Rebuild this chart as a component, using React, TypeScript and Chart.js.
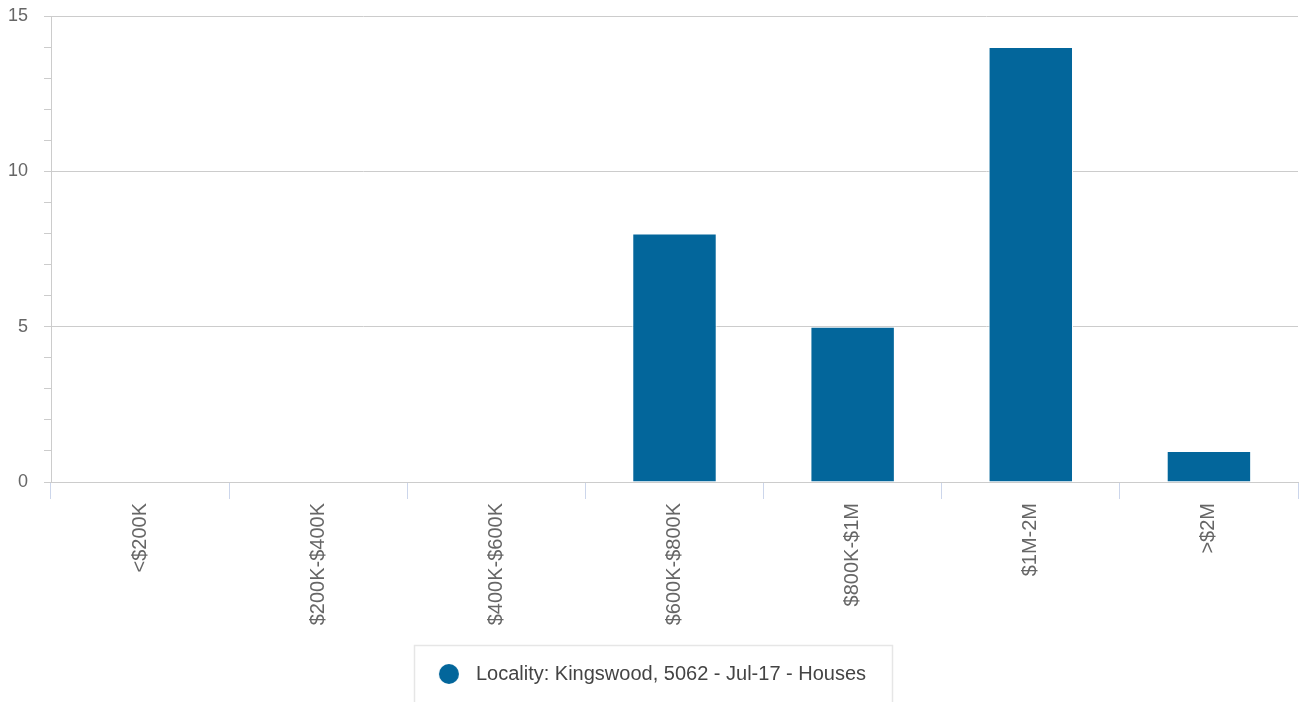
import React, { useEffect, useRef } from "react";
import { Chart, registerables } from "chart.js";

Chart.register(...registerables);

const categories = ["<$200K", "$200K-$400K", "$400K-$600K", "$600K-$800K", "$800K-$1M", "$1M-2M", ">$2M"];
const salesCounts = [0, 0, 0, 8, 5, 14, 1];
const seriesName = "Locality: Kingswood, 5062 - Jul-17 - Houses";
const yMin = 0;
const yMax = 15;
const yMajorStep = 5;
const yMinorStep = 1;

const barColor = "#03669b";
const labelColor = "#666666";
const gridColor = "#cccccc";
const xTickColor = "#ccd6eb";
const fontFamily = "'Liberation Sans', Arial, sans-serif";

export default function App() {
  const ref = useRef<HTMLCanvasElement>(null);

  useEffect(() => {
    if (!ref.current) return;
    const marker = document.createElement("canvas");
    marker.width = 22;
    marker.height = 22;
    const mctx = marker.getContext("2d")!;
    mctx.fillStyle = barColor;
    mctx.beginPath();
    mctx.arc(11, 11, 10, 0, Math.PI * 2);
    mctx.fill();

    const legendBox = {
      id: "legendBox",
      afterDraw(chart: any) {
        const lg = chart.legend;
        if (!lg || !lg.legendHitBoxes || !lg.legendHitBoxes.length) return;
        const hb = lg.legendHitBoxes[0];
        const ctx = chart.ctx;
        const left = Math.round(hb.left - 18);
        const right = Math.round(hb.left + hb.width + 26);
        const top = Math.round(lg.top);
        ctx.save();
        ctx.strokeStyle = "#e6e6e6";
        ctx.lineWidth = 1.5;
        ctx.strokeRect(left + 0.5, top + 0.5, right - left, chart.height - top + 10);
        ctx.restore();
      },
    };

    const chart = new Chart(ref.current, {
      type: "bar",
      data: {
        labels: categories,
        datasets: [
          {
            label: seriesName,
            data: salesCounts,
            backgroundColor: barColor,
            borderColor: "#ffffff",
            borderWidth: 1,
            categoryPercentage: 0.6,
            barPercentage: 0.79,
            pointStyle: marker as any,
          },
        ],
      },
      options: {
        animation: false,
        responsive: true,
        maintainAspectRatio: false,
        layout: { padding: { top: 16, right: 3, bottom: 8, left: 0 } },
        plugins: {
          tooltip: { enabled: false },
          legend: {
            position: "bottom",
            align: "center",
            labels: {
              usePointStyle: true,
              pointStyleWidth: 34,
              boxHeight: 20,
              padding: 19,
              color: "#444444",
              font: { family: fontFamily, size: 20 },
            },
          },
        },
        scales: {
          x: {
            offset: true,
            grid: {
              display: true,
              offset: true,
              drawOnChartArea: false,
              drawTicks: true,
              tickLength: 17,
              tickColor: xTickColor,
              color: xTickColor,
            },
            border: { display: true, color: gridColor, width: 1 },
            ticks: {
              autoSkip: false,
              minRotation: 90,
              maxRotation: 90,
              padding: 4,
              color: labelColor,
              font: { family: fontFamily, size: 20 },
            },
            afterFit(scale: any) {
              scale.height = 163;
            },
          },
          y: {
            min: yMin,
            max: yMax,
            grid: {
              display: true,
              drawTicks: true,
              tickLength: 7,
              color: (c: any) => (c.tick && c.tick.value % yMajorStep === 0 ? gridColor : "rgba(0,0,0,0)"),
              tickColor: gridColor,
            },
            border: { display: true, color: gridColor, width: 1 },
            ticks: {
              stepSize: yMinorStep,
              autoSkip: false,
              padding: 16,
              color: labelColor,
              font: { family: fontFamily, size: 18 },
              callback: (v: any) => (Number(v) % yMajorStep === 0 ? String(v) : ""),
            },
            afterFit(scale: any) {
              scale.width = 51;
              scale.paddingTop = 0;
              scale.paddingBottom = 0;
            },
          },
        },
      },
      plugins: [legendBox],
    });
    return () => chart.destroy();
  }, []);

  return (
    <div style={{ position: "absolute", left: 0, top: 0, width: 1301, height: 702 }}>
      <canvas ref={ref} />
    </div>
  );
}
